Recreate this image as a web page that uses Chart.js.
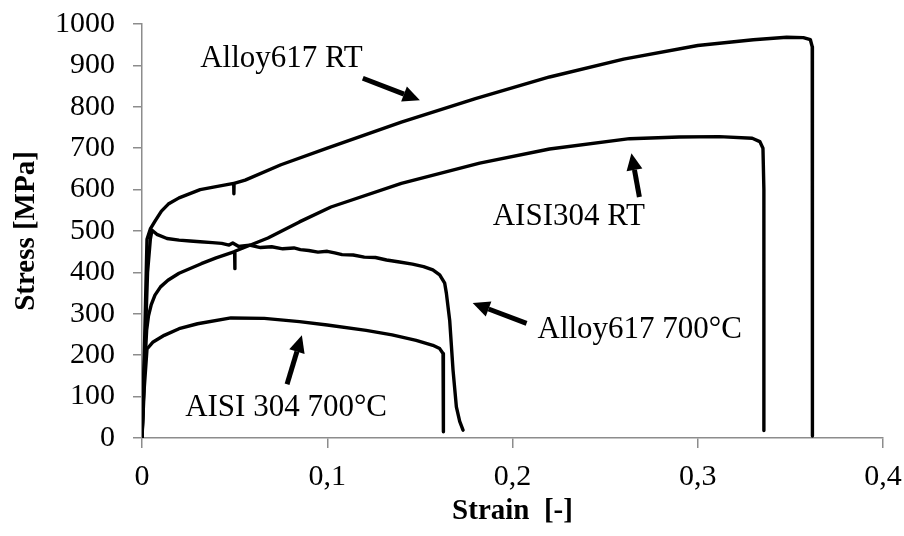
<!DOCTYPE html>
<html>
<head>
<meta charset="utf-8">
<title>Stress-strain curves</title>
<script src="https://cdn.jsdelivr.net/npm/chart.js@4.4.1/dist/chart.umd.min.js"></script>
<style>
  html, body { margin: 0; padding: 0; background: #fff; }
  #wrap { width: 904px; height: 536px; }
</style>
</head>
<body>
<div id="wrap"><canvas id="curves" width="904" height="536"></canvas></div>
<script>
// --- data (strain [-], stress [MPa]) ---
const alloyRtStrain = [0, 0.0015, 0.0027, 0.0045, 0.0072, 0.0105, 0.0142, 0.02, 0.0314, 0.04, 0.0495, 0.0496, 0.0497, 0.0557, 0.075, 0.1, 0.14, 0.18, 0.22, 0.26, 0.3, 0.33, 0.348, 0.357, 0.3608, 0.3618, 0.3619];
const alloyRtStress = [0, 250, 480, 505, 525, 548, 565, 580, 600, 607, 615, 590, 615, 623, 660, 700, 763, 820, 872, 915, 948, 962, 968, 967, 962, 945, 5];

const aisiRtStrain = [0, 0.0012, 0.0025, 0.0035, 0.005, 0.007, 0.01, 0.014, 0.02, 0.032, 0.04, 0.05, 0.0501, 0.0502, 0.068, 0.085, 0.102, 0.14, 0.1823, 0.22, 0.2632, 0.29, 0.3116, 0.3294, 0.3335, 0.3352, 0.3357, 0.3357];
const aisiRtStress = [0, 150, 260, 295, 322, 345, 365, 381, 398, 421, 435, 450, 409, 451, 483, 522, 558, 615, 664, 698, 723, 727, 728, 724, 716, 700, 600, 18];

const alloyHotStrain = [0, 0.0015, 0.003, 0.0045, 0.0054, 0.008, 0.0135, 0.02, 0.026, 0.0314, 0.038, 0.043, 0.047, 0.049, 0.052, 0.058, 0.064, 0.07, 0.076, 0.082, 0.0855, 0.09, 0.095, 0.1, 0.104, 0.108, 0.114, 0.12, 0.126, 0.132, 0.139, 0.146, 0.152, 0.157, 0.1607, 0.1634, 0.1643, 0.1661, 0.1679, 0.1697, 0.1715, 0.1733];
const alloyHotStress = [0, 200, 400, 480, 502, 492, 482, 478, 476, 474, 472, 470, 466, 471, 463, 466, 460, 462, 457, 459, 455, 453, 449, 451, 447, 443, 442, 437, 436, 430, 425, 420, 414, 406, 394, 374, 350, 284, 164, 75, 40, 19];

const aisiHotStrain = [0, 0.0012, 0.0027, 0.006, 0.012, 0.02, 0.03, 0.048, 0.066, 0.085, 0.1, 0.121, 0.135, 0.148, 0.157, 0.1607, 0.1625, 0.1627];
const aisiHotStress = [0, 120, 215, 232, 248, 264, 276, 290, 289, 281, 273, 260, 249, 236, 224, 216, 204, 15];

// axis ticks
const xTicks = [0, 0.1, 0.2, 0.3, 0.4];
const yTicks = [0, 100, 200, 300, 400, 500, 600, 700, 800, 900, 1000];

// labels with arrows, in data units: text at [x, y], arrow from tail to tip
const notes = [
  { text: "Alloy617 RT", at: [0.0314, 896], tail: [0.1192, 869], tip: [0.150, 816] },
  { text: "AISI304 RT", at: [0.1893, 514], tail: [0.2685, 582], tip: [0.2642, 688] },
  { text: "Alloy617 700\u00B0C", at: [0.2135, 241], tail: [0.2076, 277], tip: [0.1785, 326] },
  { text: "AISI 304 700\u00B0C", at: [0.0233, 52], tail: [0.0783, 130], tip: [0.0863, 248] }
];

function toPoints(xs, ys) {
  return xs.map((x, i) => ({ x: x, y: ys[i] }));
}

function curve(xs, ys) {
  return {
    data: toPoints(xs, ys),
    showLine: true,
    borderColor: "#000",
    borderWidth: 3.4,
    pointRadius: 0,
    tension: 0,
    borderJoinStyle: "round",
    borderCapStyle: "round"
  };
}

/* text + arrow annotations */
const notePlugin = {
  id: "notes",
  afterDatasetsDraw(chart) {
    const ctx = chart.ctx;
    const xs = chart.scales.x, ys = chart.scales.y;
    ctx.save();
    ctx.fillStyle = "#000";
    ctx.strokeStyle = "#000";
    ctx.font = "31px 'Liberation Serif', 'Times New Roman', serif";
    ctx.textBaseline = "alphabetic";
    notes.forEach(n => {
      ctx.fillText(n.text, xs.getPixelForValue(n.at[0]), ys.getPixelForValue(n.at[1]));

      const x1 = xs.getPixelForValue(n.tail[0]), y1 = ys.getPixelForValue(n.tail[1]);
      const x2 = xs.getPixelForValue(n.tip[0]), y2 = ys.getPixelForValue(n.tip[1]);
      const ang = Math.atan2(y2 - y1, x2 - x1);
      const headLen = 17, headHalf = 8;
      const bx = x2 - headLen * Math.cos(ang), by = y2 - headLen * Math.sin(ang);
      ctx.lineWidth = 5;
      ctx.beginPath();
      ctx.moveTo(x1, y1);
      ctx.lineTo(bx, by);
      ctx.stroke();
      ctx.beginPath();
      ctx.moveTo(x2, y2);
      ctx.lineTo(bx + headHalf * Math.sin(ang), by - headHalf * Math.cos(ang));
      ctx.lineTo(bx - headHalf * Math.sin(ang), by + headHalf * Math.cos(ang));
      ctx.closePath();
      ctx.fill();
    });
    ctx.restore();
  }
};

const axisColor = "#8c8c8c";
const tickFont = { family: "'Liberation Serif', 'Times New Roman', serif", size: 30 };
const titleFont = { family: "'Liberation Serif', 'Times New Roman', serif", size: 29, weight: "bold" };

new Chart(document.getElementById("curves"), {
  type: "scatter",
  data: {
    datasets: [
      curve(alloyRtStrain, alloyRtStress),
      curve(aisiRtStrain, aisiRtStress),
      curve(alloyHotStrain, alloyHotStress),
      curve(aisiHotStrain, aisiHotStress)
    ]
  },
  options: {
    responsive: false,
    animation: false,
    layout: { padding: { top: 24, right: 21, left: 0, bottom: 0 } },
    plugins: { legend: { display: false }, tooltip: { enabled: false } },
    scales: {
      x: {
        type: "linear",
        min: xTicks[0],
        max: xTicks[xTicks.length - 1],
        afterBuildTicks: s => { s.ticks = xTicks.map(v => ({ value: v })); },
        afterFit: s => { s.height = 98; s.paddingLeft = 0; s.paddingRight = 0; },
        border: { display: true, color: axisColor, width: 1.5 },
        grid: { display: true, drawOnChartArea: false, drawTicks: true, tickLength: 10, color: axisColor, lineWidth: 1.5 },
        ticks: {
          color: "#000",
          font: tickFont,
          padding: 11,
          maxRotation: 0,
          callback: v => v === 0 ? "0" : v.toFixed(1).replace(".", ",")
        },
        title: { display: true, text: "Strain  [-]", color: "#000", font: titleFont, padding: { top: 4, bottom: 7 } }
      },
      y: {
        min: yTicks[0],
        max: yTicks[yTicks.length - 1],
        afterBuildTicks: s => { s.ticks = yTicks.map(v => ({ value: v })); },
        afterFit: s => { s.width = 142; s.paddingTop = 0; s.paddingBottom = 0; },
        border: { display: true, color: axisColor, width: 1.5 },
        grid: { display: true, drawOnChartArea: false, drawTicks: true, tickLength: 9, color: axisColor, lineWidth: 1.5 },
        ticks: { color: "#000", font: tickFont, padding: 18, callback: v => String(v) },
        title: { display: true, text: "Stress [MPa]", color: "#000", font: titleFont, padding: { top: 9, bottom: 4 } }
      }
    }
  },
  plugins: [notePlugin]
});
</script>
</body>
</html>
